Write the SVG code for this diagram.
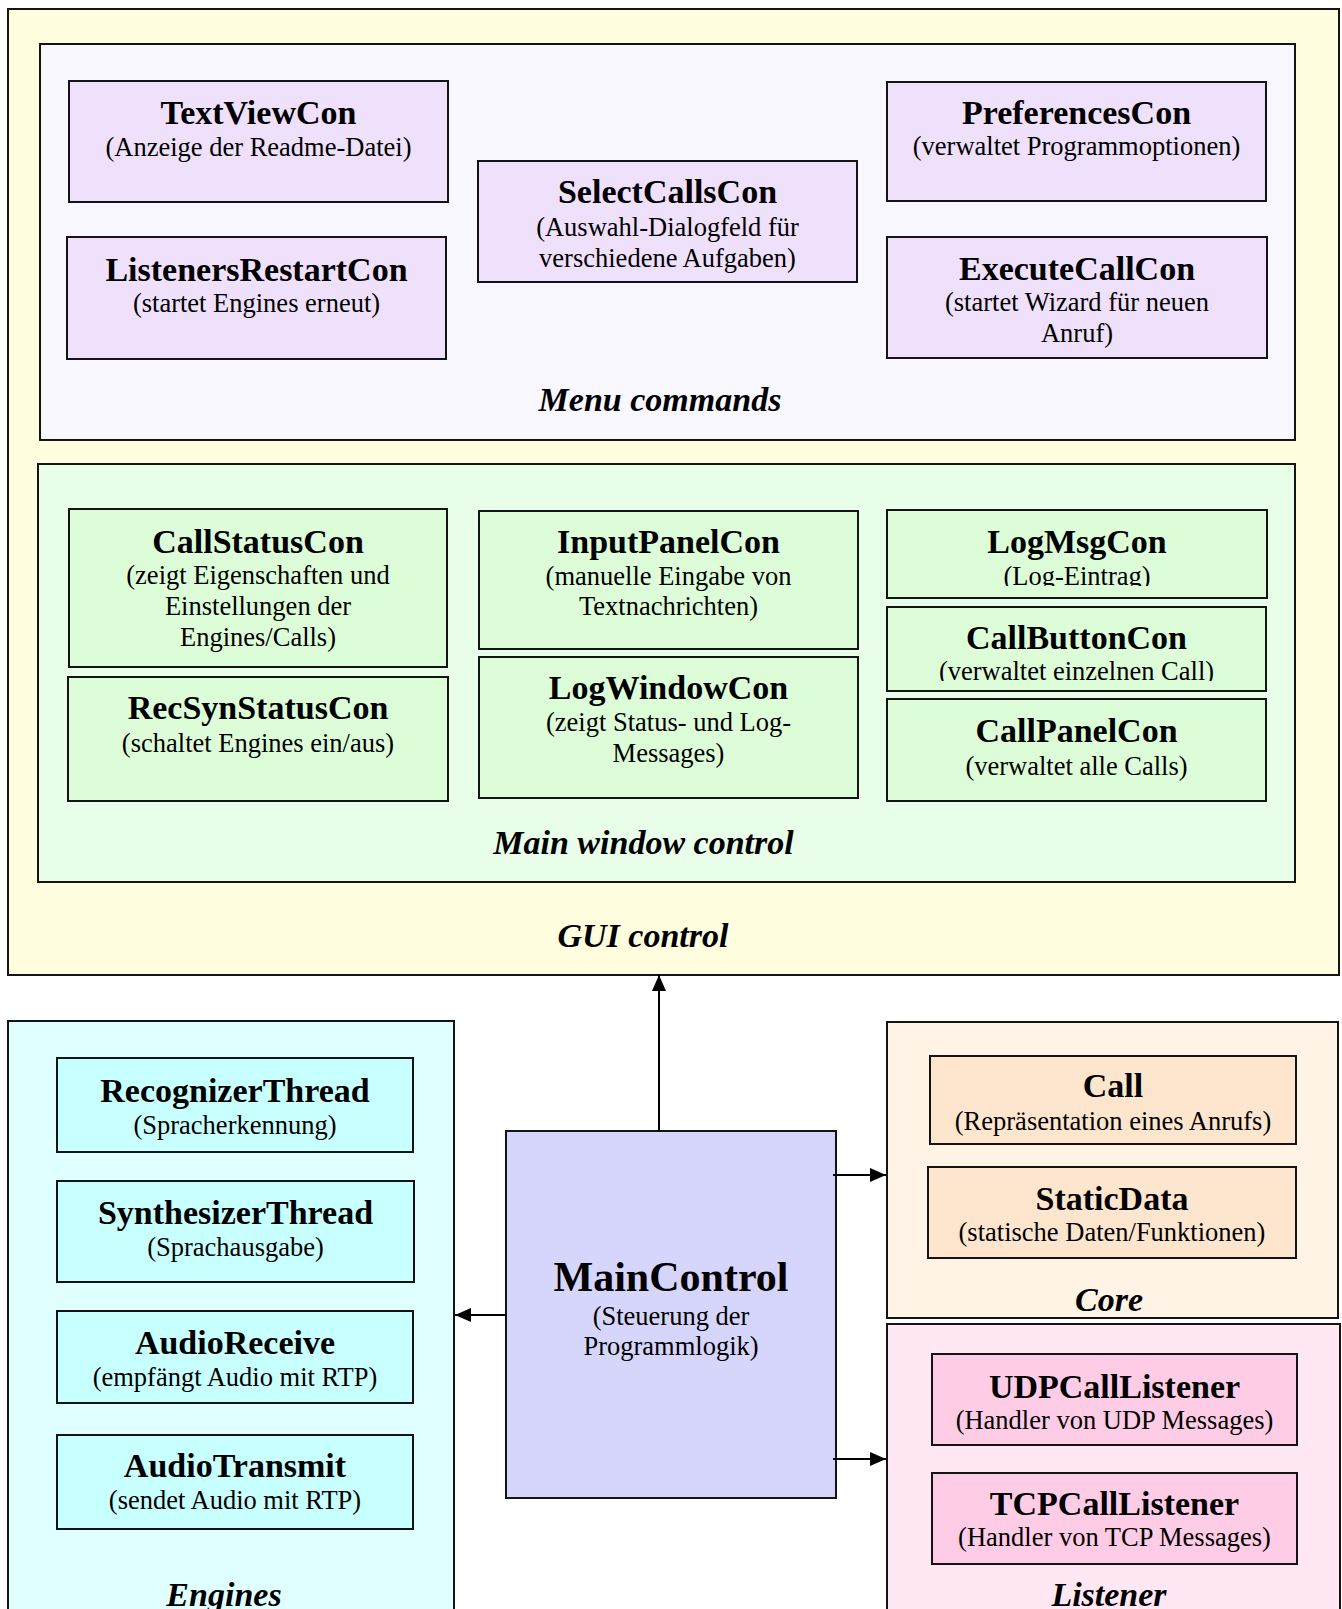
<svg xmlns="http://www.w3.org/2000/svg" width="1342" height="1609" viewBox="0 0 1342 1609">
<style>
  text { font-family: "Liberation Serif", "Times New Roman", serif; text-anchor: middle; fill: #000; }
  .t { font-size: 34px; font-weight: bold; }
  .s { font-size: 26.5px; }
  .lbl { font-size: 34px; font-weight: bold; font-style: italic; }
  .big { font-size: 42px; font-weight: bold; }
  rect { stroke: #141414; stroke-width: 2; }
  rect.bg { fill: #FFFFFF; stroke: none; }
  .gui { fill: #FFFFE0; }
  .menu { fill: #F9F7FF; }
  .menuN { fill: #EFE0FC; }
  .mainw { fill: #E8FEE8; }
  .mainN { fill: #DCFDD8; }
  .eng { fill: #E0FFFF; }
  .engN { fill: #C8FFFF; }
  .mc { fill: #D6D6FC; }
  .core { fill: #FFF3E6; }
  .coreN { fill: #FEE6CE; }
  .lis { fill: #FFE8F4; }
  .lisN { fill: #FFCCE6; }
  .conn { stroke: #000; stroke-width: 2; fill: none; marker-end: url(#arr); }
</style>
<defs>
  <marker id="arr" markerUnits="userSpaceOnUse" markerWidth="16" markerHeight="14" refX="16" refY="7" orient="auto">
    <path d="M0,0 L16,7 L0,14 z" fill="#000"/>
  </marker>
  <clipPath id="clipLogMsg"><rect x="887" y="510" width="380" height="76"/></clipPath>
  <clipPath id="clipCallButton"><rect x="887" y="607" width="379" height="74"/></clipPath>
</defs>
<rect class="bg" x="0" y="0" width="1342" height="1609"/>

<g id="gui-control">
  <rect class="gui" x="8" y="9" width="1331" height="966"/>
  <text class="lbl" x="643" y="947">GUI control</text>
</g>

<g id="menu-commands">
  <rect class="menu" x="40" y="44" width="1255" height="396"/>
  <text class="lbl" x="660" y="411">Menu commands</text>
</g>

<g id="TextViewCon">
  <rect class="menuN" x="69" y="81" width="379" height="121"/>
  <text class="t" x="258.5" y="124">TextViewCon</text>
  <text class="s" x="258.5" y="156">(Anzeige der Readme-Datei)</text>
</g>
<g id="ListenersRestartCon">
  <rect class="menuN" x="67" y="237" width="379" height="122"/>
  <text class="t" x="256.5" y="281">ListenersRestartCon</text>
  <text class="s" x="256.5" y="312">(startet Engines erneut)</text>
</g>
<g id="SelectCallsCon">
  <rect class="menuN" x="478" y="161" width="379" height="121"/>
  <text class="t" x="667.5" y="203">SelectCallsCon</text>
  <text class="s" x="667.5" y="236">(Auswahl-Dialogfeld für</text>
  <text class="s" x="667.5" y="267">verschiedene Aufgaben)</text>
</g>
<g id="PreferencesCon">
  <rect class="menuN" x="887" y="82" width="379" height="119"/>
  <text class="t" x="1076.5" y="124">PreferencesCon</text>
  <text class="s" x="1076.5" y="155">(verwaltet Programmoptionen)</text>
</g>
<g id="ExecuteCallCon">
  <rect class="menuN" x="887" y="237" width="380" height="121"/>
  <text class="t" x="1077" y="280">ExecuteCallCon</text>
  <text class="s" x="1077" y="311">(startet Wizard für neuen</text>
  <text class="s" x="1077" y="342">Anruf)</text>
</g>

<g id="main-window-control">
  <rect class="mainw" x="38" y="464" width="1257" height="418"/>
  <text class="lbl" x="643.5" y="854">Main window control</text>
</g>

<g id="CallStatusCon">
  <rect class="mainN" x="69" y="509" width="378" height="158"/>
  <text class="t" x="258" y="553">CallStatusCon</text>
  <text class="s" x="258" y="584">(zeigt Eigenschaften und</text>
  <text class="s" x="258" y="615">Einstellungen der</text>
  <text class="s" x="258" y="646">Engines/Calls)</text>
</g>
<g id="RecSynStatusCon">
  <rect class="mainN" x="68" y="677" width="380" height="124"/>
  <text class="t" x="258" y="719">RecSynStatusCon</text>
  <text class="s" x="258" y="752">(schaltet Engines ein/aus)</text>
</g>
<g id="InputPanelCon">
  <rect class="mainN" x="479" y="511" width="379" height="138"/>
  <text class="t" x="668.5" y="553">InputPanelCon</text>
  <text class="s" x="668.5" y="585">(manuelle Eingabe von</text>
  <text class="s" x="668.5" y="615">Textnachrichten)</text>
</g>
<g id="LogWindowCon">
  <rect class="mainN" x="479" y="657" width="379" height="141"/>
  <text class="t" x="668.5" y="699">LogWindowCon</text>
  <text class="s" x="668.5" y="731">(zeigt Status- und Log-</text>
  <text class="s" x="668.5" y="762">Messages)</text>
</g>
<g id="LogMsgCon">
  <rect class="mainN" x="887" y="510" width="380" height="88"/>
  <text class="t" x="1077" y="553">LogMsgCon</text>
  <text class="s" x="1077" y="585" clip-path="url(#clipLogMsg)">(Log-Eintrag)</text>
</g>
<g id="CallButtonCon">
  <rect class="mainN" x="887" y="607" width="379" height="84"/>
  <text class="t" x="1076.5" y="649">CallButtonCon</text>
  <text class="s" x="1076.5" y="680" clip-path="url(#clipCallButton)">(verwaltet einzelnen Call)</text>
</g>
<g id="CallPanelCon">
  <rect class="mainN" x="887" y="699" width="379" height="102"/>
  <text class="t" x="1076.5" y="742">CallPanelCon</text>
  <text class="s" x="1076.5" y="775">(verwaltet alle Calls)</text>
</g>

<g id="engines">
  <rect class="eng" x="8" y="1021" width="446" height="610"/>
  <text class="lbl" x="224" y="1606">Engines</text>
</g>
<g id="RecognizerThread">
  <rect class="engN" x="57" y="1058" width="356" height="94"/>
  <text class="t" x="235" y="1102">RecognizerThread</text>
  <text class="s" x="235" y="1134">(Spracherkennung)</text>
</g>
<g id="SynthesizerThread">
  <rect class="engN" x="57" y="1181" width="357" height="101"/>
  <text class="t" x="235.5" y="1224">SynthesizerThread</text>
  <text class="s" x="235.5" y="1256">(Sprachausgabe)</text>
</g>
<g id="AudioReceive">
  <rect class="engN" x="57" y="1311" width="356" height="92"/>
  <text class="t" x="235" y="1354">AudioReceive</text>
  <text class="s" x="235" y="1386">(empfängt Audio mit RTP)</text>
</g>
<g id="AudioTransmit">
  <rect class="engN" x="57" y="1435" width="356" height="94"/>
  <text class="t" x="235" y="1477">AudioTransmit</text>
  <text class="s" x="235" y="1509">(sendet Audio mit RTP)</text>
</g>

<g id="MainControl">
  <rect class="mc" x="506" y="1131" width="330" height="367"/>
  <text class="big" x="671" y="1291">MainControl</text>
  <text class="s" x="671" y="1325">(Steuerung der</text>
  <text class="s" x="671" y="1355">Programmlogik)</text>
</g>

<g id="core">
  <rect class="core" x="887" y="1022" width="451" height="296"/>
  <text class="lbl" x="1109" y="1311">Core</text>
</g>
<g id="Call">
  <rect class="coreN" x="930" y="1056" width="366" height="88"/>
  <text class="t" x="1113" y="1097">Call</text>
  <text class="s" x="1113" y="1130">(Repräsentation eines Anrufs)</text>
</g>
<g id="StaticData">
  <rect class="coreN" x="928" y="1167" width="368" height="91"/>
  <text class="t" x="1112" y="1210">StaticData</text>
  <text class="s" x="1112" y="1241">(statische Daten/Funktionen)</text>
</g>

<g id="listener">
  <rect class="lis" x="887" y="1324" width="453" height="310"/>
  <text class="lbl" x="1109" y="1606">Listener</text>
</g>
<g id="UDPCallListener">
  <rect class="lisN" x="932" y="1354" width="365" height="91"/>
  <text class="t" x="1114.5" y="1398">UDPCallListener</text>
  <text class="s" x="1114.5" y="1429">(Handler von UDP Messages)</text>
</g>
<g id="TCPCallListener">
  <rect class="lisN" x="932" y="1473" width="365" height="91"/>
  <text class="t" x="1114.5" y="1515">TCPCallListener</text>
  <text class="s" x="1114.5" y="1546">(Handler von TCP Messages)</text>
</g>

<g id="connectors">
  <path class="conn" d="M659,1131 V975"/>
  <path class="conn" d="M506,1315 H455"/>
  <path class="conn" d="M833,1175 H886"/>
  <path class="conn" d="M833,1459 H886"/>
</g>
</svg>
